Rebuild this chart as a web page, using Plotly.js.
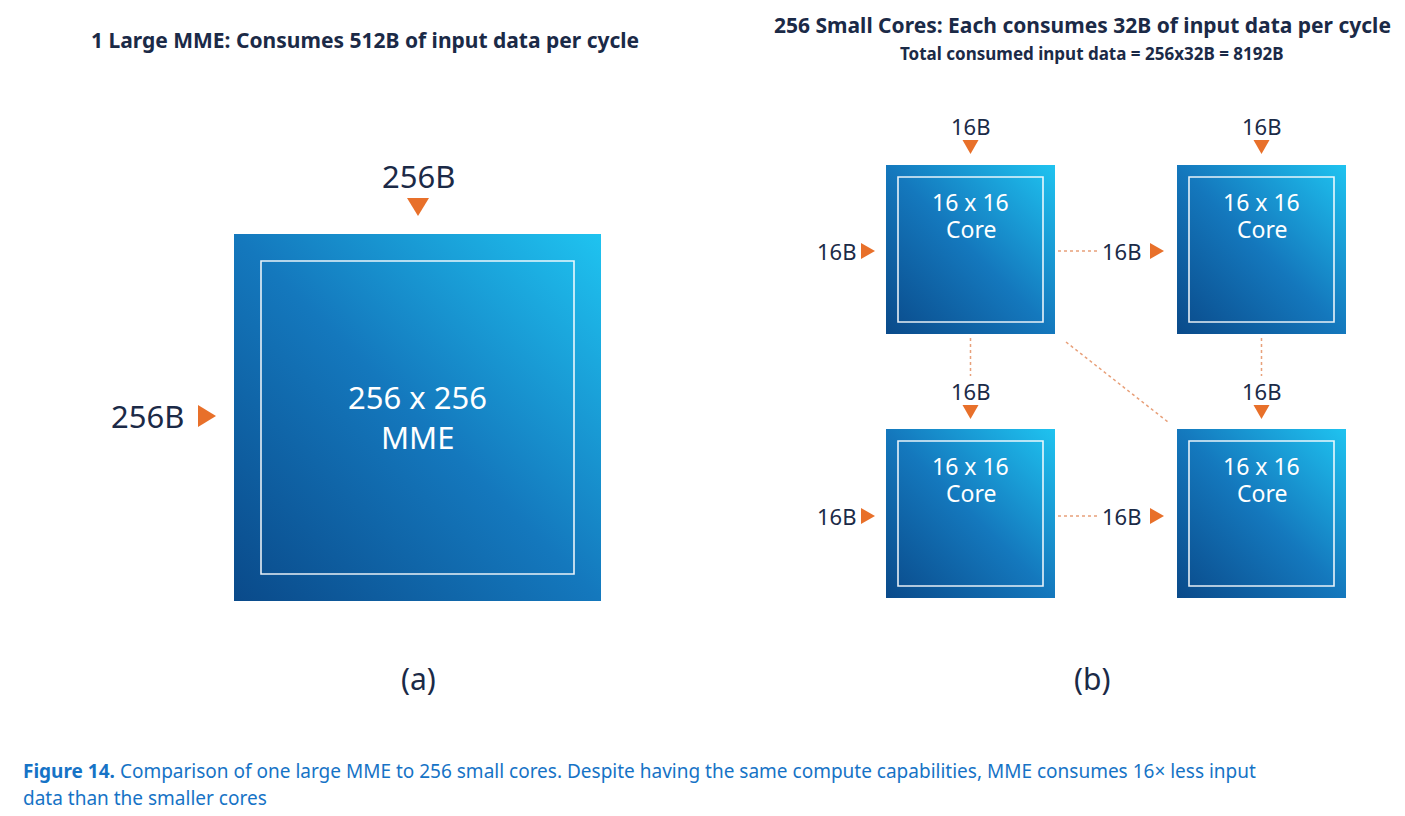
<!DOCTYPE html>
<html><head><meta charset="utf-8">
<script src="https://cdn.plot.ly/plotly-3.0.1.min.js"></script>
<style>html,body{margin:0;padding:0;background:#fff}#c{width:1405px;height:816px}</style>
</head><body><div id="c"></div>
<script>
const titles = ["1 Large MME: Consumes 512B of input data per cycle", "256 Small Cores: Each consumes 32B of input data per cycle"];
const subtitle = "Total consumed input data = 256x32B = 8192B";
const mmeLabel = ["256 x 256", "MME"];
const coreLabel = ["16 x 16", "Core"];
const mmeInput = "256B";
const coreInput = "16B";
const panelLabels = ["(a)", "(b)"];
const captionBold = "Figure 14.";
const captionLines = [" Comparison of one large MME to 256 small cores. Despite having the same compute capabilities, MME consumes 16× less input", "data than the smaller cores"];

const W = 1405, H = 816;
const navy = "#1b2a47", orange = "#e8702a", capBlue = "#1673c6";
const font = "'Noto Sans', 'Open Sans', sans-serif";
const svg = encodeURIComponent('<svg xmlns="http://www.w3.org/2000/svg" width="100" height="100" preserveAspectRatio="none"><defs><linearGradient id="g" x1="0" y1="1" x2="1" y2="0"><stop offset="0" stop-color="#0a4a8a"/><stop offset="0.5" stop-color="#1478bd"/><stop offset="1" stop-color="#1fc3f0"/></linearGradient></defs><rect width="100" height="100" fill="url(#g)"/></svg>');
const grad = "data:image/svg+xml;charset=utf-8," + svg;

const images = [], shapes = [], ann = [];
function box(x0, y0, s, inset, lines, fs, gap, dy) {
  images.push({source: grad, xref: "paper", yref: "paper", x: x0 / W, y: 1 - y0 / H, sizex: s / W, sizey: s / H, sizing: "stretch", xanchor: "left", yanchor: "top", layer: "below"});
  shapes.push({type: "rect", x0: x0 + inset, x1: x0 + s - inset, y0: y0 + inset, y1: y0 + s - inset, line: {color: "rgba(255,255,255,0.9)", width: 1.6}});
  const cx = x0 + s / 2, cy = y0 + s / 2 + dy;
  ann.push(txt(cx, cy - gap / 2, lines[0], fs, "#fff"));
  ann.push(txt(cx, cy + gap / 2, lines[1], fs, "#fff"));
}
function txt(x, y, t, size, color, bold, xa) {
  return {x: x, y: y, xref: "x", yref: "y", text: bold ? "<b>" + t + "</b>" : t, showarrow: false, xanchor: xa || "center", yanchor: "middle", font: {family: font, size: size, color: color || navy}};
}
function tri(cx, cy, w, h, dir) {
  let p;
  if (dir === "down") p = `M${cx - w / 2},${cy - h / 2} L${cx + w / 2},${cy - h / 2} L${cx},${cy + h / 2} Z`;
  else p = `M${cx - h / 2},${cy - w / 2} L${cx - h / 2},${cy + w / 2} L${cx + h / 2},${cy} Z`;
  shapes.push({type: "path", path: p, fillcolor: orange, line: {width: 0}});
}
function dot(x0, y0, x1, y1) {
  shapes.push({type: "line", x0: x0, y0: y0, x1: x1, y1: y1, line: {color: "#e8a07a", width: 1.5, dash: "dot"}});
}

// Titles
ann.push(txt(365, 40, titles[0], 21, navy, true));
ann.push(txt(772, 25, titles[1], 21, navy, true, "left"));
ann.push(txt(1092, 53, subtitle, 17, navy, true));

// Panel (a)
box(234, 234, 367, 27, mmeLabel, 31, 40, -1);
ann.push(txt(418, 176, mmeInput, 31));
tri(418, 207, 22, 18, "down");
ann.push(txt(147, 416, mmeInput, 31));
tri(207, 416, 22, 18, "right");

// Panel (b)
const cols = [886, 1177], rows = [165, 429], s = 169;
rows.forEach(y => cols.forEach(x => box(x, y, s, 12, coreLabel, 23, 27, -34)));
cols.forEach(x => { const cx = x + s / 2; ann.push(txt(cx, 126, coreInput, 22)); tri(cx, 147, 16, 14, "down");
  dot(cx, 338, cx, 376); ann.push(txt(cx, 391, coreInput, 22)); tri(cx, 412, 16, 14, "down"); });
[251, 516].forEach(cy => {
  ann.push(txt(836, cy, coreInput, 22)); tri(868, cy, 16, 14, "right");
  dot(1058, cy, 1097, cy); ann.push(txt(1121, cy, coreInput, 22)); tri(1157, cy, 16, 14, "right");
});
dot(1066, 342, 1168, 422);

ann.push(txt(418, 678, panelLabels[0], 30));
ann.push(txt(1092, 678, panelLabels[1], 30));

// Caption
ann.push(txt(21, 771, "<b>" + captionBold + "</b>" + captionLines[0], 19, capBlue, false, "left"));
ann.push(txt(21, 798, captionLines[1], 19, capBlue, false, "left"));

const ax = {visible: false, showgrid: false, zeroline: false, fixedrange: true};
Plotly.newPlot("c", [], {
  width: W, height: H, margin: {l: 0, r: 0, t: 0, b: 0},
  paper_bgcolor: "#fff", plot_bgcolor: "#fff",
  xaxis: Object.assign({range: [0, W]}, ax),
  yaxis: Object.assign({range: [H, 0]}, ax),
  images: images, shapes: shapes, annotations: ann, showlegend: false
}, {displayModeBar: false, staticPlot: true});
</script></body></html>
